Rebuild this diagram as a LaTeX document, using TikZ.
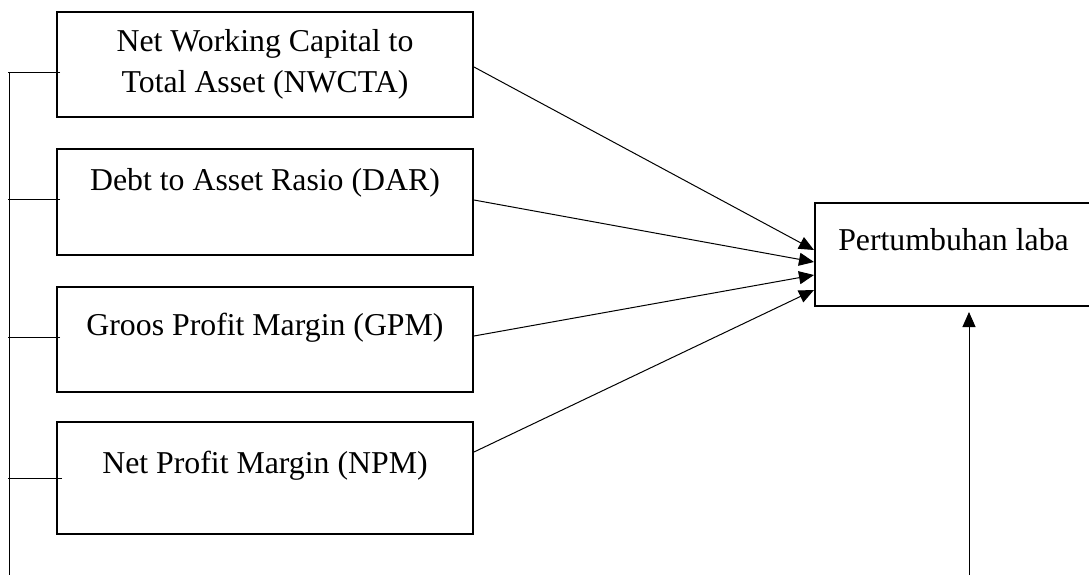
\documentclass[tikz,border=0pt]{standalone}
\usepackage{fontspec}
\setmainfont{Liberation Serif}
\usetikzlibrary{positioning}
\usetikzlibrary{arrows.meta}

\begin{document}
\begin{tikzpicture}[x=0.5pt, y=-0.5pt, line width=0.5pt,
      every node/.style={shape=rectangle, draw, line width=1pt, align=center,
        minimum width=208pt, inner ysep=0pt,
        font=\fontsize{15.9pt}{20.5pt}\selectfont},
      link/.style={-{Triangle[length=7.5pt,width=6.5pt]}},
      node distance=15pt]
      \useasboundingbox (0,0) rectangle (1089,575);
      \node[minimum height=52.5pt] (nwcta) at (265,64.5)
        {Net Working Capital to\\Total Asset (NWCTA)};
      \node[below=of nwcta, text height=20.5pt, text depth=32.5pt] (dar)
        {Debt to Asset Rasio (DAR)};
      \node[below=of dar, text height=24pt, text depth=28.5pt] (gpm)
        {Groos Profit Margin (GPM)};
      \node[below=14pt of gpm, text height=25.5pt, text depth=30.5pt] (npm)
        {Net Profit Margin (NPM)};
      \node[anchor=north west, minimum width=138.5pt,
        text height=23.5pt, text depth=28pt] (laba) at (814,202)
        {Pertumbuhan laba};
      % garis kiri
      \coordinate (spine) at (9,72);
      \coordinate (spine end) at (9,575);
      \draw (spine) -- (spine end);
      \draw ([xshift=2pt,yshift=-3.75pt]nwcta.west) -- ++(-26pt,0);
      \draw ([xshift=2pt,yshift=1.5pt]dar.west) -- ++(-26pt,0);
      \draw ([xshift=2pt,yshift=1.25pt]gpm.west) -- ++(-26pt,0);
      \draw ([xshift=3pt]npm.west) -- ++(-27pt,0);
      % panah ke pertumbuhan laba
      \draw[link] ([yshift=-1.25pt]nwcta.east) -- ([yshift=2.25pt]laba.west);
      \draw[link] ([yshift=1pt]dar.east) -- ([yshift=-3.75pt]laba.west);
      \draw[link] ([yshift=1.75pt]gpm.east) -- ([yshift=-10.25pt]laba.west);
      \draw[link] ([yshift=13pt]npm.east) -- ([yshift=-17.75pt]laba.west);
      \coordinate (base) at (969,575);
      \draw[link, shorten >=2.5pt] (base) -- (base |- laba.south);
\end{tikzpicture}
\end{document}
